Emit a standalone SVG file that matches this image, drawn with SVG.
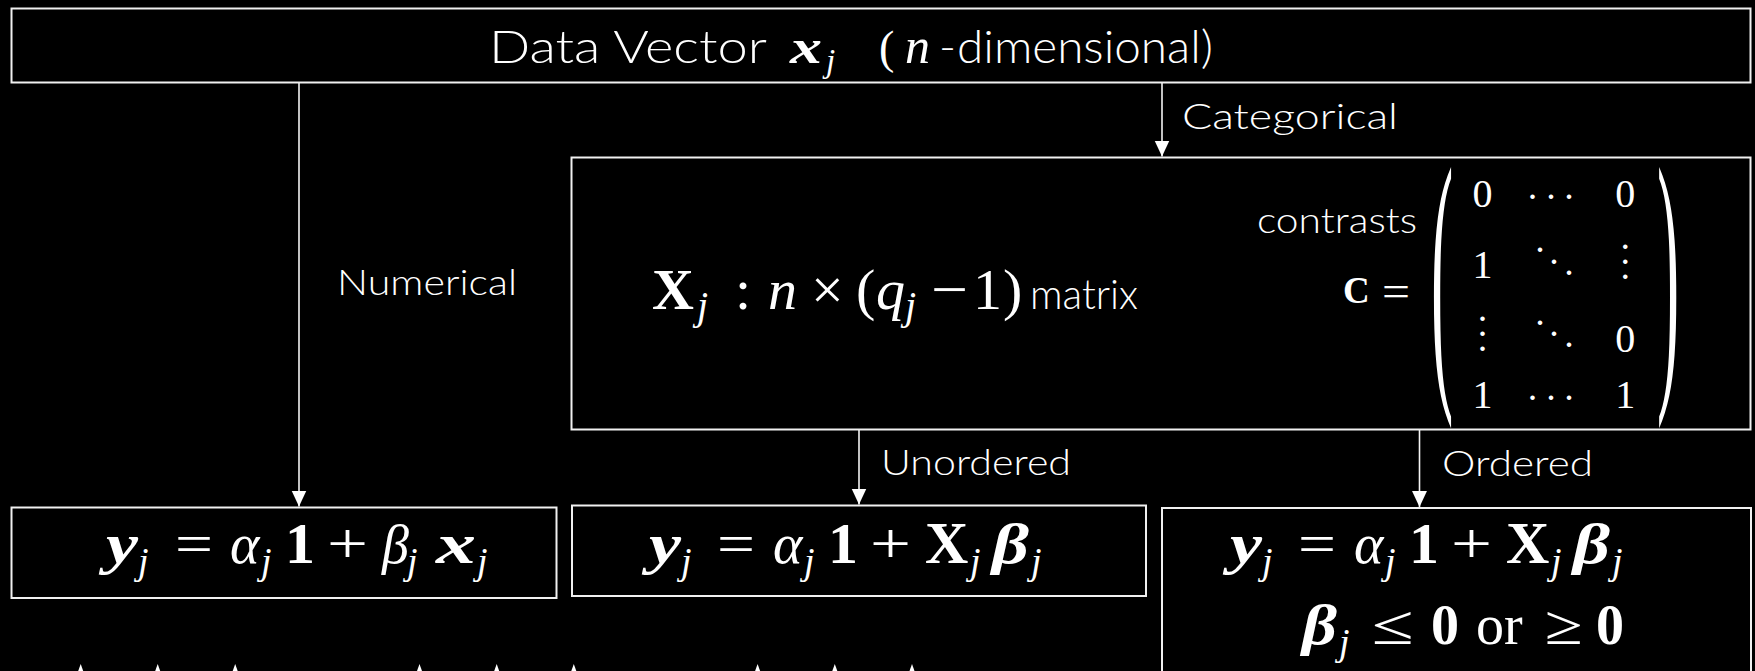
<svg xmlns="http://www.w3.org/2000/svg" width="1755" height="671" viewBox="0 0 1755 671">
<defs>
<style>
.box{fill:#000;stroke:#f0f0f0;stroke-width:2}
.ln{stroke:#f4f4f4;stroke-width:1.6;fill:none}
.s{font-family:Lato,"DejaVu Sans",sans-serif;font-weight:300;fill:#fff}
.m{font-family:"Liberation Serif","DejaVu Serif",serif;fill:#fff}
.i{font-style:italic}
.b{font-weight:bold}
.bi{font-weight:bold;font-style:italic}
.dot{font-family:"Liberation Serif","DejaVu Serif",serif;fill:#fff;font-size:38px;text-anchor:middle}
</style>
<marker id="arr" markerUnits="userSpaceOnUse" markerWidth="16" markerHeight="16" viewBox="0 0 15 14" refX="15" refY="7" orient="auto">
<path d="M0,0 L15,7 L0,14 Z" fill="#fff"/>
</marker>
</defs>
<rect width="1755" height="671" fill="#000"/>

<g id="connectors">
<line class="ln" x1="299" y1="83" x2="299" y2="506.5" marker-end="url(#arr)"/>
<line class="ln" x1="1162" y1="83" x2="1162" y2="156.5" marker-end="url(#arr)"/>
<line class="ln" x1="859" y1="430" x2="859" y2="504.5" marker-end="url(#arr)"/>
<line class="ln" x1="1419.5" y1="430" x2="1419.5" y2="507" marker-end="url(#arr)"/>
<text class="s" x="337" y="295" font-size="36" textLength="180" lengthAdjust="spacingAndGlyphs">Numerical</text>
<text class="s" x="1182" y="129" font-size="36" textLength="216" lengthAdjust="spacingAndGlyphs">Categorical</text>
<text class="s" x="881" y="475" font-size="36" textLength="190" lengthAdjust="spacingAndGlyphs">Unordered</text>
<text class="s" x="1442" y="476" font-size="36" textLength="151" lengthAdjust="spacingAndGlyphs">Ordered</text>
</g>

<g id="node-data-vector">
<rect class="box" x="11.5" y="8.5" width="1739" height="74"/>
<text class="s" x="489" y="63" font-size="46" textLength="278" lengthAdjust="spacingAndGlyphs">Data Vector</text>
<text class="m bi" x="790" y="63" font-size="48" textLength="32" lengthAdjust="spacingAndGlyphs">x</text>
<text class="m i" x="826" y="72" font-size="33">j</text>
<text class="m" x="879" y="63" font-size="46">(</text>
<text class="m i" x="905" y="63" font-size="50">n</text>
<text class="s" x="939" y="63" font-size="46">-</text>
<text class="s" x="957" y="63" font-size="46" textLength="256" lengthAdjust="spacingAndGlyphs">dimensional)</text>
</g>

<g id="node-categorical">
<rect class="box" x="571.5" y="157.5" width="1179" height="272"/>
<text class="m b" x="652" y="309" font-size="58">X</text>
<text class="m i" x="697" y="319" font-size="40">j</text>
<text class="m" x="735" y="309" font-size="58">:</text>
<text class="m i" x="768" y="309" font-size="58">n</text>
<text class="m" x="811" y="309" font-size="58">×</text>
<text class="m" x="856" y="309" font-size="58">(</text>
<text class="m i" x="876" y="309" font-size="58">q</text>
<text class="m i" x="905" y="319" font-size="40">j</text>
<text class="m" x="931" y="309" font-size="58" textLength="37" lengthAdjust="spacingAndGlyphs">−</text>
<text class="m" x="973" y="309" font-size="58">1</text>
<text class="m" x="1003" y="309" font-size="58">)</text>
<text class="s" x="1030" y="309" font-size="41" textLength="108" lengthAdjust="spacingAndGlyphs">matrix</text>
<text class="s" x="1257" y="233" font-size="36" textLength="160" lengthAdjust="spacingAndGlyphs">contrasts</text>
<text class="m b" x="1343" y="303" font-size="37">C</text>
<text class="m" x="1382" y="306" font-size="44" textLength="28" lengthAdjust="spacingAndGlyphs">=</text>
<text class="m" transform="translate(1431,367) scale(1.15,4.97)" font-size="58">(</text>
<text class="m" transform="translate(1657,367) scale(1.15,4.97)" font-size="58">)</text>
<g class="m" font-size="40" text-anchor="middle">
<text x="1482.6" y="207">0</text>
<text x="1625.3" y="207">0</text>
<text x="1482.6" y="278">1</text>
<text x="1625.3" y="352">0</text>
<text x="1482.6" y="408">1</text>
<text x="1625.3" y="408">1</text>
</g>
<text class="dot" x="1532.5 1551 1569" y="198.5 198.5 198.5">...</text>
<text class="dot" x="1532.5 1551 1569" y="399.5 399.5 399.5">...</text>
<text class="dot" x="1540 1554 1569" y="251.5 263.5 274.5">...</text>
<text class="dot" x="1540 1554 1569" y="324.5 335.5 346.5">...</text>
<text class="dot" x="1625.3 1625.3 1625.3" y="248.5 263.5 278.5">...</text>
<text class="dot" x="1482.6 1482.6 1482.6" y="320.5 335.5 350.5">...</text>
</g>

<g id="node-numerical-model">
<rect class="box" x="11.5" y="507.5" width="545" height="90.5"/>
<text class="m bi" x="106" y="563" font-size="58" textLength="32" lengthAdjust="spacingAndGlyphs">y</text>
<text class="m i" x="138" y="574" font-size="38">j</text>
<text class="m" x="175" y="563" font-size="56" textLength="38" lengthAdjust="spacingAndGlyphs">=</text>
<text class="m i" x="230" y="563" font-size="56">α</text>
<text class="m i" x="261" y="574" font-size="38">j</text>
<text class="m b" x="285" y="563" font-size="58" textLength="30" lengthAdjust="spacingAndGlyphs">1</text>
<text class="m" x="327" y="563" font-size="56" textLength="41" lengthAdjust="spacingAndGlyphs">+</text>
<text class="m i" x="382" y="563" font-size="54">β</text>
<text class="m i" x="407" y="574" font-size="38">j</text>
<text class="m bi" x="436" y="563" font-size="58" textLength="40" lengthAdjust="spacingAndGlyphs">x</text>
<text class="m i" x="477" y="574" font-size="38">j</text>
</g>

<g id="node-unordered-model">
<rect class="box" x="572" y="505.5" width="574" height="90.5"/>
<text class="m bi" x="649" y="563" font-size="58" textLength="32" lengthAdjust="spacingAndGlyphs">y</text>
<text class="m i" x="681" y="574" font-size="38">j</text>
<text class="m" x="717" y="563" font-size="56" textLength="38" lengthAdjust="spacingAndGlyphs">=</text>
<text class="m i" x="773" y="563" font-size="56">α</text>
<text class="m i" x="804" y="574" font-size="38">j</text>
<text class="m b" x="828" y="563" font-size="58" textLength="30" lengthAdjust="spacingAndGlyphs">1</text>
<text class="m" x="870" y="563" font-size="56" textLength="41" lengthAdjust="spacingAndGlyphs">+</text>
<text class="m b" x="925" y="563" font-size="60">X</text>
<text class="m i" x="970" y="574" font-size="38">j</text>
<text class="m bi" x="992" y="563" font-size="58" textLength="37" lengthAdjust="spacingAndGlyphs">β</text>
<text class="m i" x="1031" y="574" font-size="38">j</text>
</g>

<g id="node-ordered-model">
<rect class="box" x="1162" y="508" width="589" height="200"/>
<text class="m bi" x="1230" y="563" font-size="58" textLength="32" lengthAdjust="spacingAndGlyphs">y</text>
<text class="m i" x="1262" y="574" font-size="38">j</text>
<text class="m" x="1298" y="563" font-size="56" textLength="38" lengthAdjust="spacingAndGlyphs">=</text>
<text class="m i" x="1354" y="563" font-size="56">α</text>
<text class="m i" x="1385" y="574" font-size="38">j</text>
<text class="m b" x="1409" y="563" font-size="58" textLength="30" lengthAdjust="spacingAndGlyphs">1</text>
<text class="m" x="1451" y="563" font-size="56" textLength="41" lengthAdjust="spacingAndGlyphs">+</text>
<text class="m b" x="1506" y="563" font-size="60">X</text>
<text class="m i" x="1551" y="574" font-size="38">j</text>
<text class="m bi" x="1573" y="563" font-size="58" textLength="37" lengthAdjust="spacingAndGlyphs">β</text>
<text class="m i" x="1612" y="574" font-size="38">j</text>
<text class="m bi" x="1302" y="644" font-size="58" textLength="35" lengthAdjust="spacingAndGlyphs">β</text>
<text class="m i" x="1339" y="655" font-size="38">j</text>
<text class="m" x="1372" y="644" font-size="56" textLength="42" lengthAdjust="spacingAndGlyphs">≤</text>
<text class="m b" x="1431" y="644" font-size="56">0</text>
<text class="m" x="1476" y="644" font-size="56">or</text>
<text class="m" x="1545" y="644" font-size="56" textLength="38" lengthAdjust="spacingAndGlyphs">≥</text>
<text class="m b" x="1596" y="644" font-size="56">0</text>
</g>

<g id="bottom-marks" fill="#fff">
<polygon points="80.7,664 83.2,671 78.2,671"/>
<polygon points="157.7,664 160.2,671 155.2,671"/>
<polygon points="235.2,664 237.7,671 232.7,671"/>
<polygon points="419.5,664 422,671 417,671"/>
<polygon points="496.7,664 499.2,671 494.2,671"/>
<polygon points="573.8,664 576.3,671 571.3,671"/>
<polygon points="757.6,664 760.1,671 755.1,671"/>
<polygon points="834.8,664 837.3,671 832.3,671"/>
<polygon points="912,664 914.5,671 909.5,671"/>
</g>
</svg>
